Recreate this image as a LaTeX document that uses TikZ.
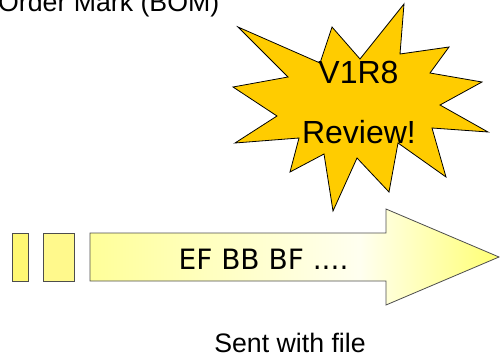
\documentclass[tikz,border=0pt]{standalone}
\usepackage{fontspec}
\setmainfont{Liberation Sans}
\newfontfamily\bytefont{DejaVu Sans}
\usetikzlibrary{positioning}
\definecolor{starGold}{HTML}{FFCC00}
\definecolor{rimGray}{HTML}{4D4D4D}
\pgfdeclarehorizontalshading{streamShade}{100bp}{color(0bp)=(yellow!40); color(25bp)=(yellow!40); color(58bp)=(yellow!6); color(75bp)=(yellow!55); color(100bp)=(yellow!55)}

\begin{document}
\begin{tikzpicture}[x=1pt, y=-1pt,
  txt/.style={font=\fontsize{26.7}{30}\selectfont, inner sep=0pt},
  stamp/.style={font=\fontsize{32}{36}\selectfont, inner sep=0pt},
  packet/.style={draw=rimGray, line width=0.8pt, fill=yellow!55,
                 minimum height=48pt, inner sep=0pt, anchor=north west},
]
  \useasboundingbox (0,0) rectangle (500,356);
  \clip (0,0) rectangle (500,356);

  \node[txt, anchor=base west] (title) at (-2,12) {Order Mark (BOM)};

  % byte stream
  \node[packet, minimum width=16pt] (p1) at (12,233) {};
  \node[packet, minimum width=31pt, fill=yellow!45] (p2) at (43,233) {};
  \draw[draw=rimGray, line width=0.8pt, shading=streamShade]
    (90,233) -- (386,233) -- (386,209) -- (499,257) -- (386,305)
    -- (386,281) -- (90,281) -- cycle;
  \node[txt, font=\bytefont\fontsize{28}{30}\selectfont, anchor=base] (bytes) at (263.5,269) {EF BB BF ....};

  % review burst
  \draw[fill=starGold, line width=0.8pt]
    (404,4) -- (400,54) -- (449,47) -- (430,73) -- (482,82) -- (440,105)
    -- (488,132) -- (432,128) -- (446,177) -- (398,143) -- (389,192)
    -- (357,158) -- (333,211) -- (324,154) -- (290,172) -- (299,138)
    -- (235,143) -- (277,116) -- (233,87) -- (288,77) -- (238,27)
    -- (320,63) -- (332,27) -- (360,59) -- cycle;
  \node[stamp, anchor=base] (ver) at (358.5,83) {V1R8};
  \node[stamp, anchor=base] (review) at (359,143) {Review!};

  \node[txt, anchor=base] (sent) at (290,352) {Sent with file};
\end{tikzpicture}
\end{document}
